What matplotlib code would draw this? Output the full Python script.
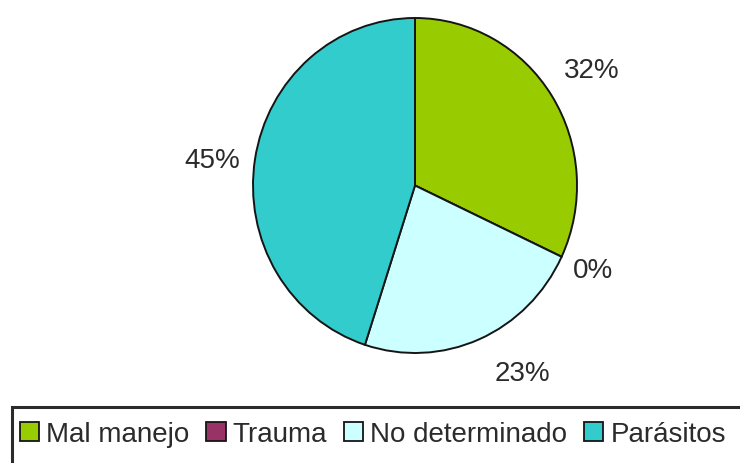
import numpy as np
import matplotlib
matplotlib.use("Agg")
import matplotlib.pyplot as plt
from matplotlib.patches import Patch, Rectangle

categories = ["Mal manejo", "Trauma", "No determinado", "Parásitos"]
values = [32, 0, 23, 45]
colors = ["#99CC00", "#993366", "#CCFFFF", "#33CCCC"]

# label placement (layout only): angular nudge in degrees, radial distance
label_nudge_deg = [-0.2, 0.7, 7.4, 2.1]
label_dist = [1.29, 1.21, 1.30, 1.26]

plt.rcParams['font.family'] = ['Liberation Sans', 'DejaVu Sans']

W, H = 740, 464
fig = plt.figure(figsize=(W / 100, H / 100), dpi=100)
fig.patch.set_facecolor("white")

# pie axes (pixel box of the ellipse)
left, right, top, bottom = 253, 577, 19, 354
ax = fig.add_axes([left / W, 1 - bottom / H, (right - left) / W, (bottom - top) / H])
wedges, texts, autotexts = ax.pie(
    values, colors=colors, startangle=90, counterclock=False,
    autopct='%1.0f%%', pctdistance=1.28,
    wedgeprops=dict(edgecolor="#151515", linewidth=1.4),
    textprops=dict(fontsize=20, color="#2b2b2b"))
ax.set_aspect('auto')
ax.set_xlim(-1, 1)
ax.set_ylim(-1, 1)
for w, t, dn, d in zip(wedges, autotexts, label_nudge_deg, label_dist):
    mid = np.deg2rad((w.theta1 + w.theta2) / 2 + dn)
    t.set_position((d * np.cos(mid), d * np.sin(mid)))
    t.set_ha('center')
    t.set_va('center')

# legend frame (extends past the right and bottom edges, as in the reference)
frame = Rectangle((12 / W, -0.2), 1.0, (1 - 408 / H) + 0.2,
                  transform=fig.transFigure, fill=False,
                  edgecolor="#2b2b2b", linewidth=2.2, clip_on=False)
fig.add_artist(frame)

handles = [Patch(facecolor=c, edgecolor="#151515", linewidth=1.3) for c in colors]
leg = fig.legend(handles, categories, loc='center left',
                 bbox_to_anchor=(20 / W, 1 - 435 / H), ncol=4,
                 fontsize=20, frameon=False,
                 handlelength=0.7, handleheight=0.7, handletextpad=0.25,
                 columnspacing=0.6, borderpad=0, borderaxespad=0)
for t in leg.get_texts():
    t.set_color("#2b2b2b")

fig.savefig("out.png", dpi=100, facecolor="white")
